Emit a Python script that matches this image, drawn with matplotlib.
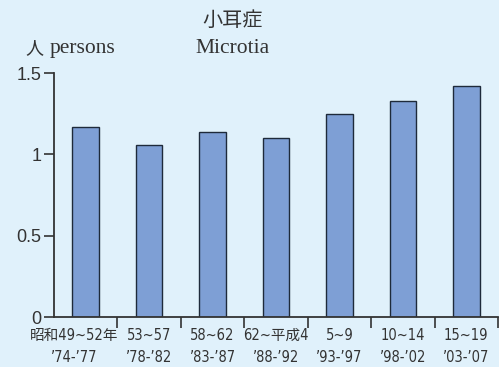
import numpy as np
import matplotlib
matplotlib.use("Agg")
import matplotlib.pyplot as plt
from matplotlib.transforms import ScaledTranslation

# data
periods = ["昭和49~52年", "53~57", "58~62", "62~平成4", "5~9", "10~14", "15~19"]
years = ["’74-’77", "’78-’82", "’83-’87", "’88-’92", "’93-’97", "’98-’02", "’03-’07"]
values = [1.17, 1.06, 1.14, 1.10, 1.25, 1.33, 1.42]

bg = "#e0f1fb"
bar_color = "#7e9fd5"
dark = "#333333"

fig = plt.figure(figsize=(4.99, 3.67), dpi=100)
fig.patch.set_facecolor(bg)
ax = fig.add_axes([0.108, 0.136, 0.89, 0.665])
ax.set_facecolor(bg)

x = np.arange(len(values))
ax.bar(x, values, width=0.42, color=bar_color, edgecolor="#1e2a3a", linewidth=1.0)

ax.set_xlim(-0.5, len(values) - 0.5)
ax.set_ylim(0, 1.5)

for s in ["top", "right"]:
    ax.spines[s].set_visible(False)
for s in ["left", "bottom"]:
    ax.spines[s].set_color(dark)
    ax.spines[s].set_linewidth(1.3)

lab_font = ["DejaVu Sans", "Noto Sans CJK JP"]

ax.set_yticks([0, 0.5, 1, 1.5])
ax.set_yticklabels(["0", "0.5", "1", "1.5"], family=["Liberation Sans"], fontsize=13, color=dark)
ax.tick_params(axis="y", length=7, width=1.2, color=dark, pad=2)

ax.set_xticks(x)
ax.set_xticklabels([p + "\n" + y for p, y in zip(periods, years)],
                   family=lab_font, fontstretch="condensed", fontsize=10.5,
                   color=dark, linespacing=1.55)
ax.tick_params(axis="x", which="major", length=0, pad=8)
ax.set_xticks(np.arange(0.5, len(values), 1), minor=True)
ax.tick_params(axis="x", which="minor", length=8, width=1.2, color=dark)

# first label sits a little left of its bar
first = ax.get_xticklabels()[0]
first.set_transform(first.get_transform() + ScaledTranslation(-8 / 72, 0, fig.dpi_scale_trans))

fig.text(0.05, 0.868, "人", family=["Noto Sans CJK JP"], fontsize=13, color=dark, va="center")
fig.text(0.10, 0.868, "persons", family=["Liberation Serif"], fontsize=15.5, color=dark, va="center")
fig.text(0.465, 0.945, "小耳症", family=["Noto Sans CJK JP"], fontsize=14.5, color=dark,
         ha="center", va="center")
fig.text(0.465, 0.868, "Microtia", family=["Liberation Serif"], fontsize=15.5, color=dark,
         ha="center", va="center")

fig.savefig("out.png", dpi=100, facecolor=bg)
